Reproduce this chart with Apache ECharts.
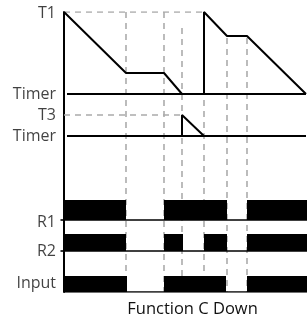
<!DOCTYPE html>
<html>
<head>
<meta charset="utf-8">
<script src="https://cdn.jsdelivr.net/npm/echarts@6/dist/echarts.min.js"></script>
<style>html,body{margin:0;padding:0;background:#fff;}#c{width:307px;height:320px;}</style>
</head>
<body>
<div id="c"></div>
<script>
// time axis (arbitrary units), level axis (arbitrary units)
const xMax = 243;
const yMax = 280;
// analogue timer 1 waveform
const timer1X = [0, 62, 100, 118, 140, 140, 163, 183, 242];
const timer1Y = [280, 219, 219, 198, 198, 280, 256, 256, 198];
const timer1Base = 198;
// analogue timer 2 waveform
const timer2X = [118, 118, 140];
const timer2Y = [156, 177, 156];
const timer2Base = 156;
// reference levels
const levelT1 = 280;
const levelT3 = 177;
const levelT1End = 140;
const levelT3End = 118;
// vertical guide lines: time and top level
const guideX = [62, 100, 118, 140, 163, 183];
const guideTop = [280, 280, 264, 280, 254, 254];
// digital signals: [start, end] of high state
const r1High = [[0, 62], [100, 163], [183, 243]];
const r2High = [[0, 62], [100, 119], [140, 163], [183, 243]];
const inputHigh = [[0, 63], [100, 162], [183, 243]];
const r1Level = [72, 92];
const r2Level = [41, 58];
const inputLevel = [0, 16];
// axis labels
const labelNames = ['T1', 'Timer', 'T3', 'Timer', 'R1', 'R2', 'Input'];
const labelY = [279, 198, 177, 156, 70, 41, 9];
const tickNames = ['R1', 'R2'];
const tickY = [72, 41];
const title = 'Function C Down';

const font = 'Open Sans';
const dashStyle = {color: '#ababab', width: 1.6, type: [6, 5]};
const black = '#000';
const textColor = '#111';

const series = [];
guideX.forEach((x, i) => {
  series.push({type: 'line', data: [[x, guideTop[i]], [x, 0]], symbol: 'none', silent: true, z: 1,
    lineStyle: dashStyle});
});
series.push({type: 'line', data: [[0, levelT1], [levelT1End, levelT1]], symbol: 'none', z: 1, lineStyle: dashStyle});
series.push({type: 'line', data: [[0, levelT3], [levelT3End, levelT3]], symbol: 'none', z: 1, lineStyle: dashStyle});
series.push({type: 'line', data: [[3, timer1Base], [xMax - 1, timer1Base]], symbol: 'none', z: 3, lineStyle: {color: black, width: 2}});
series.push({type: 'line', data: [[3, timer2Base], [xMax - 1, timer2Base]], symbol: 'none', z: 3, lineStyle: {color: black, width: 2}});
series.push({type: 'line', data: timer1X.map((x, i) => [x, timer1Y[i]]), symbol: 'none', z: 4, lineStyle: {color: black, width: 2}});
series.push({type: 'line', data: timer2X.map((x, i) => [x, timer2Y[i]]), symbol: 'none', z: 4, lineStyle: {color: black, width: 2}});
[r1Level, r2Level, inputLevel].forEach(l => {
  series.push({type: 'line', data: [[0, l[0]], [xMax, l[0]]], symbol: 'none', z: 3, lineStyle: {color: black, width: 1.5}});
});
const blocks = [];
r1High.forEach(s => blocks.push([s[0], s[1], r1Level[0], r1Level[1]]));
r2High.forEach(s => blocks.push([s[0], s[1], r2Level[0], r2Level[1]]));
inputHigh.forEach(s => blocks.push([s[0], s[1], inputLevel[0], inputLevel[1]]));
series.push({
  type: 'custom', z: 5, data: blocks,
  renderItem: function (params, api) {
    const p0 = api.coord([api.value(0), api.value(3)]);
    const p1 = api.coord([api.value(1), api.value(2)]);
    return {type: 'rect', shape: {x: p0[0], y: p0[1], width: p1[0] - p0[0], height: p1[1] - p0[1]}, style: {fill: black}};
  },
  encode: {x: [0, 1], y: [2, 3]}
});
series.push({
  type: 'scatter', symbolSize: 0, z: 6,
  data: labelNames.map((n, i) => [0, labelY[i], n]),
  label: {show: true, position: 'left', distance: 8, formatter: p => p.data[2],
    fontFamily: font, fontSize: 16, color: textColor}
});
series.push({
  type: 'scatter', symbol: 'rect', symbolSize: [3, 2], symbolOffset: [-2, 0], z: 6,
  itemStyle: {color: black},
  data: tickNames.map((n, i) => [0, tickY[i]])
});

const chart = echarts.init(document.getElementById('c'));
chart.setOption({
  animation: false,
  backgroundColor: '#fff',
  grid: {left: 64, right: 0, top: 12, bottom: 28, containLabel: false, outerBoundsMode: 'none'},
  xAxis: {type: 'value', min: 0, max: xMax, axisLine: {show: false}, axisTick: {show: false},
    axisLabel: {show: false}, splitLine: {show: false},
    name: title, nameLocation: 'middle', nameGap: 9,
    nameTextStyle: {fontFamily: font, fontSize: 16.5, color: textColor, padding: [0, 0, 0, 14]}},
  yAxis: {type: 'value', min: 0, max: yMax, axisLine: {show: true, lineStyle: {color: black, width: 2}},
    axisTick: {show: false}, axisLabel: {show: false}, splitLine: {show: false}},
  series: series
});
</script>
</body>
</html>
